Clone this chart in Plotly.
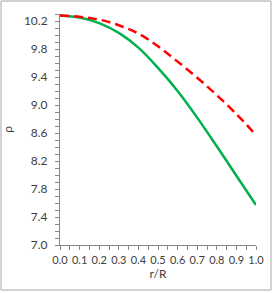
import plotly.graph_objects as go

r = [0.0, 0.1, 0.2, 0.3, 0.4, 0.5, 0.6, 0.7, 0.8, 0.9, 1.0]
rho_green = [10.28, 10.25, 10.17, 10.03, 9.82, 9.53, 9.20, 8.82, 8.41, 7.99, 7.57]
rho_red = [10.28, 10.26, 10.22, 10.14, 10.02, 9.84, 9.62, 9.39, 9.14, 8.87, 8.57]

y_ticks = [7.0, 7.4, 7.8, 8.2, 8.6, 9.0, 9.4, 9.8, 10.2]
x_ticks = [0.0, 0.1, 0.2, 0.3, 0.4, 0.5, 0.6, 0.7, 0.8, 0.9, 1.0]

fig = go.Figure()
fig.add_trace(go.Scatter(x=r, y=rho_green, mode="lines", line=dict(color="#00B050", width=2.5, shape="spline"), showlegend=False))
fig.add_trace(go.Scatter(x=r, y=rho_red, mode="lines", line=dict(color="#FF0000", width=2.5, dash="9px,5px", shape="spline"), showlegend=False))

W, H = 273, 293
l, rgt, t, b = 60, 17, 14, 48
pw, ph = W - l - rgt, H - t - b

def px2paper_x(px):
    return (px - l) / pw

def py2paper_y(py):
    return (H - b - py) / ph

axis_color = "#868686"
font = dict(family="Lato, Liberation Sans, sans-serif", size=11, color="#404040")

fig.update_layout(
    width=W, height=H,
    margin=dict(l=l, r=rgt, t=t, b=b, pad=0),
    paper_bgcolor="white", plot_bgcolor="white",
    font=font,
    xaxis=dict(range=[0, 1.0], tickvals=x_ticks, tickformat=".1f", showgrid=False, zeroline=False,
               showline=True, linecolor=axis_color, linewidth=1, ticks="outside", ticklen=4,
               tickcolor=axis_color, minor=dict(dtick=0.05, ticks="outside", ticklen=4, tickcolor=axis_color),
               title=dict(text="r/R", standoff=0, font=dict(size=12, color="#404040")),
               tickfont=dict(size=11), tickangle=0, automargin=False, ticklabelstandoff=1,
               fixedrange=True),
    yaxis=dict(range=[7.0, 10.3], tickvals=y_ticks, tickformat=".1f", showgrid=False, zeroline=False,
               showline=True, linecolor=axis_color, linewidth=1, ticks="outside", ticklen=4,
               tickcolor=axis_color, minor=dict(dtick=0.1, ticks="outside", ticklen=4, tickcolor=axis_color),
               title=dict(text="ρ", standoff=18, font=dict(size=12, color="#404040")),
               tickfont=dict(size=12), automargin=False, ticklabelstandoff=5, fixedrange=True),
    shapes=[dict(type="rect", xref="paper", yref="paper",
                 x0=px2paper_x(1), x1=px2paper_x(271), y0=py2paper_y(290), y1=py2paper_y(1),
                 line=dict(color="#A6A6A6", width=1), layer="below")],
)

fig.write_html("out.html", config={"displayModeBar": False},
               post_script="document.body.style.margin='0';document.body.style.overflow='hidden';")
